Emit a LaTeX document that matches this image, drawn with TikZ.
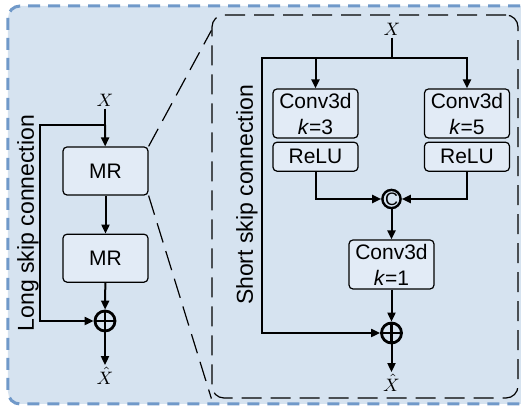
\documentclass[tikz,border=0pt]{standalone}
\usepackage{fontspec}
\setmainfont{Liberation Sans}
\usetikzlibrary{positioning,arrows.meta}
\definecolor{bgblue}{RGB}{214,227,240}
\definecolor{boxblue}{RGB}{226,235,246}
\definecolor{frameblue}{RGB}{112,153,201}

\begin{document}
\begin{tikzpicture}[
    x=0.5pt, y=-0.5pt,
    box/.style={draw, rounded corners=2pt, fill=boxblue, line width=0.6pt, align=center, font=\fontsize{10.5}{13}\selectfont, inner sep=0pt},
    mrbox/.style={box, minimum width=42.5pt, minimum height=24pt},
    convbox/.style={box, minimum width=42.5pt, minimum height=24.5pt},
    relubox/.style={box, minimum width=42.5pt, minimum height=14.5pt},
    plus/.style={draw, circle, line width=1.4pt, minimum size=10pt, inner sep=0pt,
      path picture={\draw[line width=1.4pt] (path picture bounding box.north) -- (path picture bounding box.south) (path picture bounding box.west) -- (path picture bounding box.east);}},
    catnode/.style={draw, circle, line width=1.2pt, minimum size=9pt, inner sep=0pt, font=\fontsize{9}{9}\selectfont},
    arrow/.style={-{Triangle[length=4.5pt,width=4pt]}, line width=1pt},
    line/.style={line width=1pt},
    zoom/.style={dash pattern=on 10pt off 4.5pt, line width=0.6pt},
    skiplabel/.style={rotate=90, font=\fontsize{11.5}{13}\selectfont},
    var/.style={font=\fontsize{9}{10}\selectfont, inner sep=1pt}
  ]
  \useasboundingbox (0,0) rectangle (521,406);
  % frames
  \draw[frameblue, fill=bgblue, line width=1.5pt, dash pattern=on 6pt off 4pt, rounded corners=6pt] (8,6) rectangle (560,404);
  \node[draw, zoom, rounded corners=6pt, minimum width=153pt, minimum height=191.5pt, inner sep=0pt] (frame) at (365,206.5) {};

  % long skip part
  \node[var] (x1) at (105,100) {$X$};
  \coordinate (split1) at (105,125);
  \coordinate (skip1) at (40,125);
  \node[mrbox] (mr1) at (105.5,171) {MR};
  \node[mrbox, below=19pt of mr1] (mr2) {MR};
  \node[plus] (sum1) at (105,321) {};
  \node[var] (xh1) at (105,376) {$\hat{X}$};
  \node[skiplabel] (lsc) at (28,223) {Long skip connection};

  \draw[line] (x1) -- (split1);
  \draw[arrow] (split1) -- (mr1);
  \draw[arrow] (mr1) -- (mr2);
  \draw[arrow] (mr2) -- (sum1);
  \draw[arrow] (split1) -- (skip1) |- (sum1);
  \draw[arrow] (sum1) -- (xh1);

  \draw[zoom] (mr1.north east) -- ([yshift=-8pt]frame.north west);
  \draw[zoom] (mr1.south east) -- (frame.south west);

  % MR block
  \node[var] (x2) at (392,29) {$X$};
  \coordinate (split2) at (392,58);
  \coordinate (skip2) at (262,58);
  \node[convbox] (c3) at (315.5,113.5) {Conv3d\\\textit{k}=3};
  \node[relubox, below=1.5pt of c3] (r3) {ReLU};
  \node[convbox] (c5) at (467,113.5) {Conv3d\\\textit{k}=5};
  \node[relubox, below=1.5pt of c5] (r5) {ReLU};
  \node[catnode] (cat) at (391.5,199) {C};
  \node[convbox] (c1) at (391.5,264.5) {Conv3d\\\textit{k}=1};
  \node[plus] (sum2) at (391.5,333) {};
  \node[var] (xh2) at (391.5,383) {$\hat{X}$};
  \node[skiplabel] (ssc) at (247,195) {Short skip connection};

  \draw[line] (x2) -- (split2);
  \draw[arrow] (split2) -| (c3);
  \draw[arrow] (split2) -| (c5);
  \draw[arrow] (r3) |- (cat);
  \draw[arrow] (r5) |- (cat);
  \draw[arrow] (cat) -- (c1);
  \draw[arrow] (c1) -- (sum2);
  \draw[arrow] (split2) -- (skip2) |- (sum2);
  \draw[arrow] (sum2) -- (xh2);
\end{tikzpicture}
\end{document}
